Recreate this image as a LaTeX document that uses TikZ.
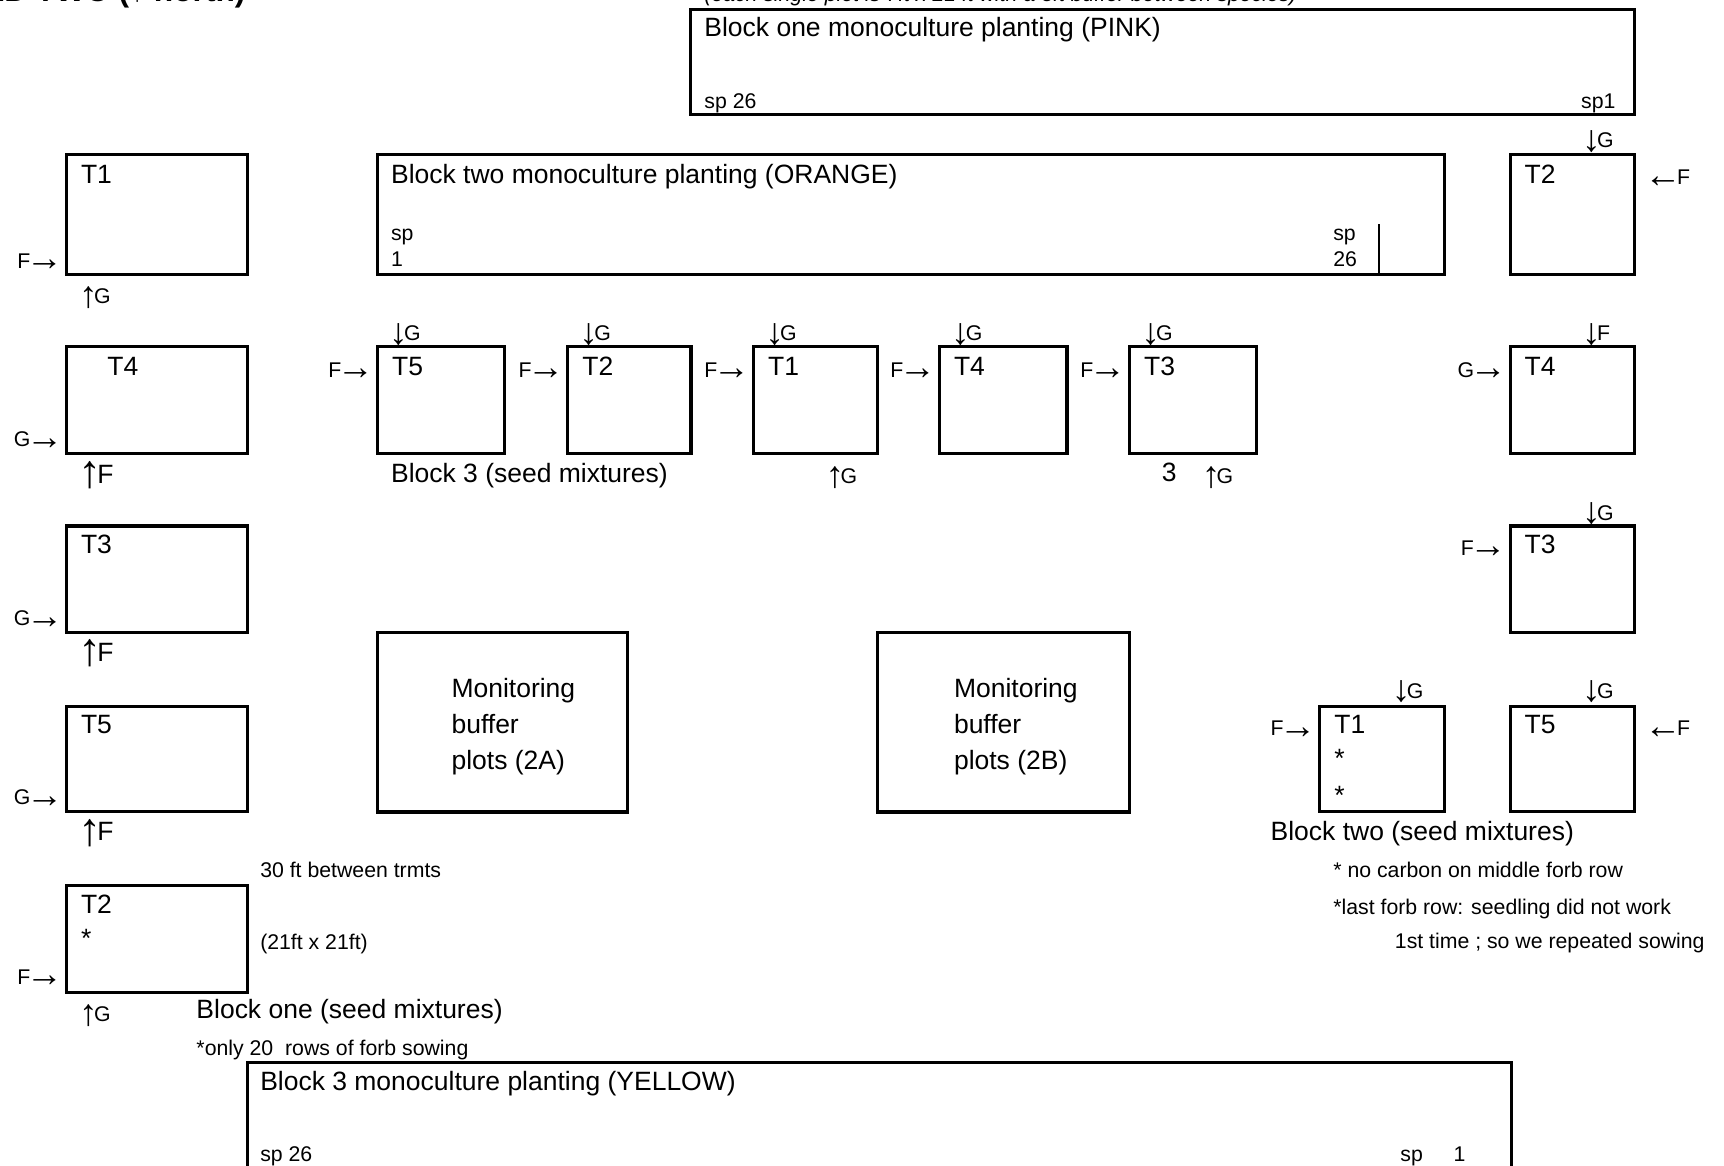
\documentclass[tikz,border=0pt]{standalone}
\usepackage{fontspec}
\setmainfont{Liberation Sans}
\newfontfamily\arrowfont[Scale=1.75]{Liberation Sans}
\usepackage{tikz}
\usetikzlibrary{positioning}

\newcommand{\bigtext}{\fontsize{6.85}{9.2}\selectfont}
\newcommand{\smalltext}{\fontsize{5.5}{6.6}\selectfont}
\newcommand{\rarr}{{\arrowfont\kern-0.12em\raisebox{-0.07em}{→}}}
\newcommand{\larr}{{\arrowfont\kern-0.06em\raisebox{-0.07em}{←}\kern-0.12em}}
\newcommand{\uarr}{{\arrowfont\kern-0.05em\raisebox{-0.1em}{↑}\kern-0.1em}}
\newcommand{\darr}{{\arrowfont\kern-0.05em\raisebox{-0.1em}{↓}\kern-0.1em}}

\begin{document}
\begin{tikzpicture}[
      x=0.01cm, y=-0.01cm,
      plotbox/.style = {draw, line width=0.8pt, inner sep=0pt, anchor=north west},
      tlabel/.style = {inner sep=0pt, anchor=base west, font=\bigtext},
      slabel/.style = {inner sep=0pt, anchor=base west, font=\smalltext}
    ]
      \useasboundingbox (0,0) rectangle (1568,1060);
      \clip (0,0) rectangle (1568,1060);

      \node[inner sep=0pt, anchor=base east, font=\fontsize{8.2}{10}\selectfont\bfseries] (head) at (224,1) {FIELD TWO (↑ north)};
      \node[slabel, font=\smalltext\itshape] (plotnote) at (640,1) {(each single plot is 7ft x 21 ft with a 3ft buffer between species)};

      \node[plotbox, minimum width=8.58cm, minimum height=0.96cm] (pink) at (627,7) {};
      \node[tlabel] (pinkname) at (640,33.5) {Block one monoculture planting (PINK)};
      \node[slabel] (pinkleft) at (640,99) {sp 26};
      \node[slabel, anchor=base east] (pinkright) at (1470,99) {sp1};

      \node[plotbox, minimum width=9.70cm, minimum height=1.09cm] (orange) at (342,139) {};
      \node[tlabel] (orangename) at (355,166.5) {Block two monoculture planting (ORANGE)};
      \node[slabel, align=left] (orangeleft) at (355,242) {sp\\1};
      \node[slabel, align=left] (orangeright) at (1212,242) {sp\\26};
      \coordinate (divide) at (1254,204);
      \draw[line width=0.6pt] (divide) -- (divide |- orange.south);

      \node[plotbox, minimum width=1.65cm, minimum height=1.09cm] (one1) at (59,139) {};
      \node[tlabel] at (73,166.5) (one1name) {T1};
      \node[slabel] at (15,244) (one1f) {F\rarr};
      \node[slabel] at (73,276) (one1g) {\uarr G};

      \node[plotbox, minimum width=1.65cm, minimum height=0.97cm] (one4) at (59,314) {};
      \node[tlabel] at (97,341.5) (one4name) {T4};
      \node[slabel] at (12,406) (one4g) {G\rarr};
      \node[tlabel] at (73,439.5) (one4f) {\uarr F};

      \node[plotbox, minimum width=1.65cm, minimum height=0.97cm] (one3) at (59,477) {};
      \node[tlabel] at (73,503.5) (one3name) {T3};
      \node[slabel] at (12,569) (one3g) {G\rarr};
      \node[tlabel] at (73,601.5) (one3f) {\uarr F};

      \node[plotbox, minimum width=1.65cm, minimum height=0.96cm] (one5) at (59,641) {};
      \node[tlabel] at (73,667.5) (one5name) {T5};
      \node[slabel] at (12,732) (one5g) {G\rarr};
      \node[tlabel] at (73,764.5) (one5f) {\uarr F};

      \node[plotbox, minimum width=1.65cm, minimum height=0.97cm] (one2) at (59,804) {};
      \node[tlabel] at (73,830.5) (one2name) {T2};
      \node[tlabel] at (73,862) (one2star) {*};
      \node[slabel] at (15,895) (one2f) {F\rarr};
      \node[slabel] at (73,929) (one2g) {\uarr G};
      \node[slabel] at (236,798) (spacing) {30 ft between trmts};
      \node[slabel] at (236,864) (size) {(21ft x 21ft)};
      \node[tlabel] at (178,926) (onename) {Block one (seed mixtures)};
      \node[slabel] at (178,960) (onenote) {*only 20\hspace{0.28em} rows of forb sowing};

      \node[plotbox, minimum width=1.15cm, minimum height=0.97cm] (three5) at (342,314) {};
      \node[plotbox, minimum width=1.12cm, minimum height=0.97cm] (three2) at (515,314) {};
      \node[plotbox, minimum width=1.13cm, minimum height=0.97cm] (three1) at (684,314) {};
      \node[plotbox, minimum width=1.16cm, minimum height=0.97cm] (three4) at (853,314) {};
      \node[plotbox, minimum width=1.15cm, minimum height=0.97cm] (three3) at (1026,314) {};
      \foreach \t/\x in {5/342, 2/515, 1/684, 4/853, 3/1026} {
        \node[tlabel] (three\t name) at (\x+14,341.5) {T\t};
        \node[slabel] (three\t g) at (\x+13,310) {\darr G};
        \node[slabel] (three\t f) at (\x-44,343) {F\rarr};
      }
      \node[tlabel] at (355,439) (threename) {Block 3 (seed mixtures)};
      \node[slabel] at (752,440) (threeg1) {\uarr G};
      \node[tlabel] at (1056,438) (threemark) {3};
      \node[slabel] at (1094,440) (threeg2) {\uarr G};

      \node[plotbox, minimum width=2.27cm, minimum height=1.63cm] (monA) at (342,574) {};
      \node[tlabel, align=left] at (410,699.5) (monAtext) {Monitoring\\buffer\\plots (2A)};
      \node[plotbox, minimum width=2.29cm, minimum height=1.63cm] (monB) at (797,574) {};
      \node[tlabel, align=left] at (867,699.5) (monBtext) {Monitoring\\buffer\\plots (2B)};

      \node[plotbox, minimum width=1.13cm, minimum height=1.09cm] (two2) at (1372,139) {};
      \node[tlabel] at (1386,166.5) (two2name) {T2};
      \node[slabel] at (1440,134) (two2g) {\darr G};
      \node[slabel] at (1497,168) (two2f) {\larr F};

      \node[plotbox, minimum width=1.13cm, minimum height=0.97cm] (two4) at (1372,314) {};
      \node[tlabel] at (1386,341.5) (two4name) {T4};
      \node[slabel] at (1440,310) (two4f) {\darr F};
      \node[slabel] at (1325,343) (two4g) {G\rarr};

      \node[plotbox, minimum width=1.13cm, minimum height=0.97cm] (two3) at (1372,477) {};
      \node[tlabel] at (1386,503.5) (two3name) {T3};
      \node[slabel] at (1440,473) (two3g) {\darr G};
      \node[slabel] at (1328,505) (two3f) {F\rarr};

      \node[plotbox, minimum width=1.13cm, minimum height=0.96cm] (two1) at (1199,641) {};
      \node[tlabel] at (1213,667.5) (two1name) {T1};
      \node[tlabel] at (1213,698) (two1star1) {*};
      \node[tlabel] at (1213,732) (two1star2) {*};
      \node[slabel] at (1267,635) (two1g) {\darr G};
      \node[slabel] at (1155,669) (two1f) {F\rarr};

      \node[plotbox, minimum width=1.13cm, minimum height=0.96cm] (two5) at (1372,641) {};
      \node[tlabel] at (1386,667.5) (two5name) {T5};
      \node[slabel] at (1440,635) (two5g) {\darr G};
      \node[slabel] at (1497,669) (two5f) {\larr F};

      \node[tlabel] at (1155,764.5) (twoname) {Block two (seed mixtures)};
      \node[slabel] at (1212,798) (twonote1) {* no carbon on middle forb row};
      \node[slabel] at (1212,832) (twonote2) {*last forb row: seedling did not work};
      \node[slabel] at (1268,863) (twonote3) {1st time ; so we repeated sowing};

      \node[plotbox, minimum width=11.49cm, minimum height=1.3cm] (yellow) at (224,965) {};
      \node[tlabel] at (236,991.5) (yellowname) {Block 3 monoculture planting (YELLOW)};
      \node[slabel] at (236,1056) (yellowleft) {sp 26};
      \node[slabel] at (1273,1056) (yellowright) {sp\hspace{1.45em}1};
    \end{tikzpicture}
\end{document}
